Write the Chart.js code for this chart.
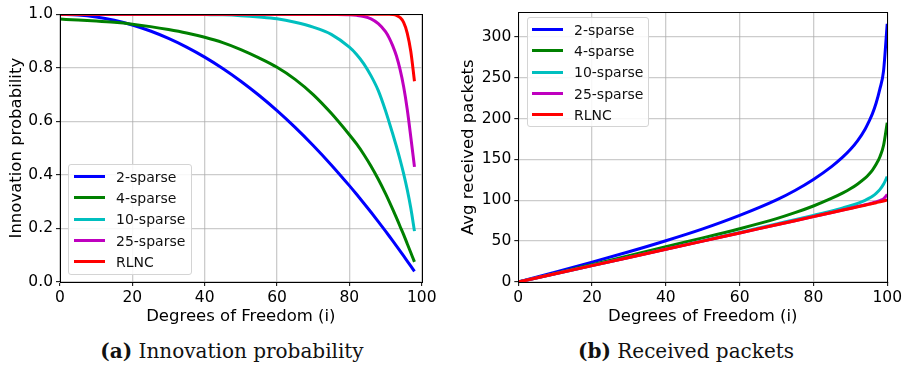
<!doctype html>
<html lang="en">

<head>
  <meta charset="utf-8">
  <title>Innovation probability / Received packets</title>

  <!-- chart js -->
  <script src="https://cdn.jsdelivr.net/npm/chart.js@4.4.1/dist/chart.umd.min.js"></script>

  <style type="text/css">
    body {
      margin: 0;
      background: white;
      width: 905px;
      height: 366px;
      position: relative;
      overflow: hidden;
      font-family: "DejaVu Sans", sans-serif;
    }

    canvas {
      position: absolute;
      top: 0;
    }

    .legend {
      position: absolute;
      box-sizing: border-box;
      border: 1px solid #d4d4d4;
      border-radius: 3px;
      background: rgba(255, 255, 255, 0.85);
      padding-top: 1px;
    }

    .legend .row {
      height: 21.3px;
      display: flex;
      align-items: center;
      font-size: 14px;
      color: #111;
    }

    .legend .swatch {
      display: inline-block;
      width: 31px;
      height: 3px;
      margin-right: 11px;
    }

    .caption {
      position: absolute;
      top: 339px;
      font-family: "DejaVu Serif", serif;
      font-size: 20px;
      color: #111;
      transform: translateX(-50%);
      white-space: nowrap;
    }
  </style>
</head>

<body>
  <canvas id="chartA" width="450" height="332" style="left:0px"></canvas>
  <canvas id="chartB" width="455" height="332" style="left:450px"></canvas>

  <div id="legendA" class="legend" style="left:68px; top:164px; width:124px; height:111px; padding-left:5px;"></div>
  <div id="legendB" class="legend" style="left:527px; top:17px; width:122px; height:110px; padding-left:4px;"></div>

  <div class="caption" style="left:232px;"><b>(a)</b> Innovation probability</div>
  <div class="caption" style="left:686px;"><b>(b)</b> Received packets</div>

  <script>
    // series names and colours (same for both panels)
    const seriesNames = ['2-sparse', '4-sparse', '10-sparse', '25-sparse', 'RLNC'];
    const seriesColors = ['#0000ff', '#008000', '#00bfbf', '#bf00bf', '#ff0000'];

    // (a) innovation probability
    const dofA = [0, 5, 10, 15, 20, 25, 30, 35, 40, 45, 50, 55, 60, 65, 70, 75, 80, 82, 84, 86, 88, 90, 91, 92, 93, 94, 95, 96, 97, 98];
    const innov2 = [1.0, 0.9975, 0.99, 0.9775, 0.96, 0.9375, 0.91, 0.8775, 0.84, 0.7975, 0.75, 0.6975, 0.64, 0.5775, 0.51, 0.4375, 0.36,
      0.3276, 0.2944, 0.2604, 0.2256, 0.19, 0.1719, 0.1536, 0.1351, 0.1164, 0.0975, 0.0784, 0.0591, 0.0396];
    const innov4 = [0.982, 0.979, 0.975, 0.97, 0.963, 0.954, 0.943, 0.93, 0.914, 0.894, 0.868, 0.837, 0.802, 0.757, 0.70, 0.63, 0.55,
      0.5156, 0.4764, 0.4324, 0.3836, 0.33, 0.3014, 0.2716, 0.2406, 0.2084, 0.177, 0.143, 0.109, 0.075];
    const innov10 = [1.0, 1.0, 1.0, 1.0, 1.0, 1.0, 1.0, 1.0, 0.999, 0.998, 0.995, 0.99, 0.983, 0.97, 0.952, 0.925, 0.877,
      0.85, 0.815, 0.77, 0.715, 0.64, 0.597, 0.553, 0.507, 0.458, 0.405, 0.345, 0.275, 0.19];
    const innov25 = [1.0, 1.0, 1.0, 1.0, 1.0, 1.0, 1.0, 1.0, 1.0, 1.0, 1.0, 1.0, 1.0, 1.0, 1.0, 0.999, 0.998,
      0.996, 0.992, 0.983, 0.965, 0.935, 0.912, 0.882, 0.845, 0.795, 0.73, 0.645, 0.54, 0.43];
    const innovRlnc = [1.0, 1.0, 1.0, 1.0, 1.0, 1.0, 1.0, 1.0, 1.0, 1.0, 1.0, 1.0, 1.0, 1.0, 1.0, 1.0, 1.0,
      1.0, 1.0, 1.0, 1.0, 1.0, 1.0, 0.999, 0.996, 0.988, 0.97, 0.93, 0.86, 0.75];

    // (b) average received packets
    const dofB = [0, 10, 20, 30, 40, 50, 60, 70, 75, 80, 85, 88, 90, 92, 94, 95, 96, 97, 98, 99, 100];
    const recv2 = [0, 12, 24.3, 37, 50.5, 65, 81.5, 100.5, 112, 125.5, 141.5, 153, 162, 173, 187, 196, 206, 219, 236, 258, 316];
    const recv4 = [0, 10.5, 21.3, 32.2, 43.3, 54, 65.2, 77.5, 84.8, 93, 102.5, 109, 114, 120, 127, 131.5, 137, 144, 153, 167, 195];
    const recv10 = [0, 10, 20.1, 30.1, 40.2, 50.3, 60.5, 71, 76.2, 81.5, 87, 90.7, 93.3, 96.3, 100, 102.3, 105, 108.5, 113, 119.5, 129];
    const recv25 = [0, 10, 20, 30, 40, 50, 60, 70, 75, 80, 85, 88.1, 90.2, 92.3, 94.5, 95.6, 96.8, 98, 99.6, 101.8, 107];
    const recvRlnc = [0, 10, 20, 30, 40, 50, 60, 70, 75, 80, 85, 88, 90, 92, 94, 95, 96, 97, 98.1, 99.2, 100.5];

    // tick labels
    const xTicks = [0, 20, 40, 60, 80, 100];
    const yTicksA = [0, 0.2, 0.4, 0.6, 0.8, 1.0];
    const yTicksB = [0, 50, 100, 150, 200, 250, 300];

    Chart.defaults.font.family = 'DejaVu Sans';
    Chart.defaults.font.size = 15.5;
    Chart.defaults.color = '#000';

    // black box round the plot area, like matplotlib spines
    const frame = {
      id: 'frame',
      afterDatasetsDraw(chart) {
        const a = chart.chartArea;
        const ctx = chart.ctx;
        ctx.save();
        ctx.strokeStyle = '#000';
        ctx.lineWidth = 1;
        ctx.strokeRect(Math.round(a.left) + 0.5, Math.round(a.top) + 0.5,
          Math.round(a.right - a.left), Math.round(a.bottom - a.top));
        ctx.restore();
      }
    };

    function makeSets(xs, lists) {
      return lists.map((vals, k) => ({
        label: seriesNames[k],
        data: xs.map((x, j) => ({ x: x, y: vals[j] })),
        borderColor: seriesColors[k],
        backgroundColor: seriesColors[k],
        borderWidth: 3,
        pointRadius: 0,
        cubicInterpolationMode: 'monotone',
        order: lists.length - k
      }));
    }

    function gridOpts() {
      return {
        color: 'rgba(170,170,170,0.6)',
        lineWidth: 1.3,
        tickLength: 4,
        tickColor: '#000',
        tickWidth: 1
      };
    }

    function makeChart(id, sets, yMin, yMax, yTicks, yFmt, yTitle, yWidth, titlePad, pad) {
      return new Chart(document.getElementById(id), {
        type: 'line',
        data: { datasets: sets },
        plugins: [frame],
        options: {
          responsive: false,
          animation: false,
          layout: { padding: pad },
          plugins: { legend: { display: false }, tooltip: { enabled: false } },
          scales: {
            x: {
              type: 'linear',
              min: 0,
              max: 100,
              afterBuildTicks: (s) => { s.ticks = xTicks.map(v => ({ value: v })); },
              afterFit: (s) => { s.height = 50; },
              ticks: { padding: 3, maxRotation: 0 },
              grid: gridOpts(),
              border: { color: '#000' },
              title: {
                display: true,
                text: 'Degrees of Freedom (i)',
                font: { size: 16.5 },
                padding: { top: 0, bottom: 5 }
              }
            },
            y: {
              min: yMin,
              max: yMax,
              afterBuildTicks: (s) => { s.ticks = yTicks.map(v => ({ value: v })); },
              afterFit: (s) => { s.width = yWidth; },
              ticks: { padding: 3, callback: yFmt },
              grid: gridOpts(),
              border: { color: '#000' },
              title: {
                display: true,
                text: yTitle,
                font: { size: 16.5 },
                padding: { top: titlePad, bottom: 0 }
              }
            }
          }
        }
      });
    }

    makeChart('chartA',
      makeSets(dofA, [innov2, innov4, innov10, innov25, innovRlnc]),
      0, 1, yTicksA, (v) => v.toFixed(1), 'Innovation probability', 60, 7,
      { left: 0, top: 14.3, right: 28.3, bottom: 0 });

    makeChart('chartB',
      makeSets(dofB, [recv2, recv4, recv10, recv25, recvRlnc]),
      0, 330, yTicksB, (v) => String(v), 'Avg received packets', 68.3, 8.4,
      { left: 0, top: 10, right: 17.7, bottom: 0 });

    // legends drawn as html boxes inside the plot areas
    function fillLegend(id) {
      let html = '';
      for (let k = 0; k < seriesNames.length; k++) {
        html += `<div class="row"><span class="swatch" style="background:${seriesColors[k]}"></span>${seriesNames[k]}</div>`;
      }
      document.getElementById(id).innerHTML = html;
    }
    fillLegend('legendA');
    fillLegend('legendB');
  </script>
</body>

</html>
